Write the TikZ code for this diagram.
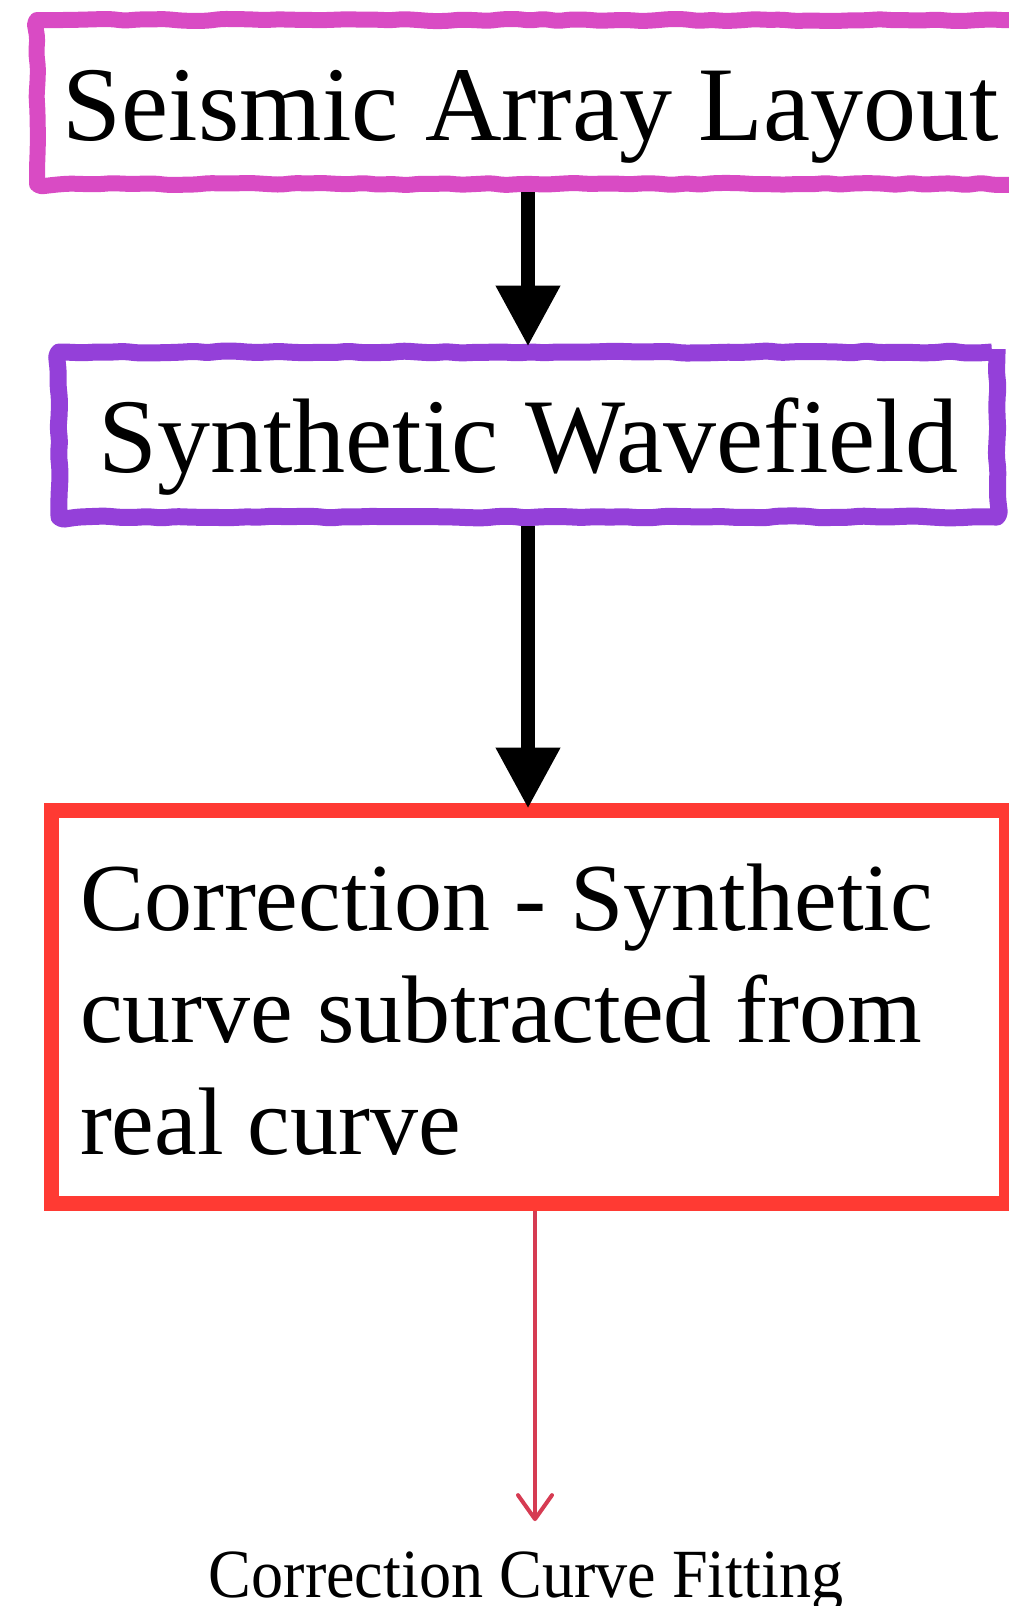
\documentclass[tikz,border=0pt]{standalone}
\usepackage{graphicx}
\usepackage{fontspec}
\setmainfont{Liberation Serif}
\usetikzlibrary{arrows.meta,decorations.pathmorphing}
\definecolor{boxpink}{RGB}{217,75,196}
\definecolor{boxpurple}{RGB}{148,64,217}
\definecolor{boxred}{RGB}{255,58,51}
\definecolor{arrred}{RGB}{214,59,82}
\tikzset{
  sketchbox/.style={draw, inner sep=0pt, line join=round,
    decorate, decoration={random steps, segment length=14pt, amplitude=1.1pt},
    rounded corners=5pt},
  plainbox/.style={draw, line join=miter},
  blackarrow/.style={line width=14pt, draw=black, -{Triangle[length=61pt,width=61pt]}},
  redarrow/.style={line width=4pt, draw=arrred, -{Straight Barb[length=24pt,width=34pt,round]}}
}
\begin{document}
\pgfmathsetseed{7}
\begin{tikzpicture}[x=1pt,y=-1pt]
\useasboundingbox (0,0) rectangle (1009,1606);
\clip (0,0) rectangle (1009,1606);
\node[sketchbox, draw=boxpink, line width=16pt, minimum width=988pt, minimum height=164pt,
      text height=100pt, text depth=24pt] (box1) at (531,102)
      {\fontsize{106}{127}\selectfont Seismic Array Layout};
\node[sketchbox, draw=boxpurple, line width=17pt, minimum width=938pt, minimum height=165pt,
      text height=100pt, text depth=24pt] (box2) at (528,434.5)
      {\fontsize{106}{127}\selectfont Synthetic Wavefield};
\node[plainbox, draw=boxred, line width=15pt, inner xsep=29pt, inner ysep=0pt] (box3) at (528.5,1006.5)
      {\parbox[c][393pt][t]{897pt}{\fontsize{96}{112}\selectfont\raggedright
       \rule{0pt}{120pt}Correction - Synthetic\\curve subtracted from\\real curve}};
\node[anchor=base, inner sep=0pt] (fitting) at (526,1597)
      {\fontsize{69}{80}\selectfont\scalebox{0.93}[1]{Correction Curve Fitting}};
\draw[blackarrow] (box2.north |- box1.south) -- ([yshift=-3pt]box2.north);
\draw[blackarrow] (box2.south) -- ([yshift=-6pt]box2.south |- box3.north);
\draw[redarrow, shorten >=30pt] ([xshift=6.5pt]box3.south) -- ([xshift=9pt]fitting.north);
\end{tikzpicture}
\end{document}
